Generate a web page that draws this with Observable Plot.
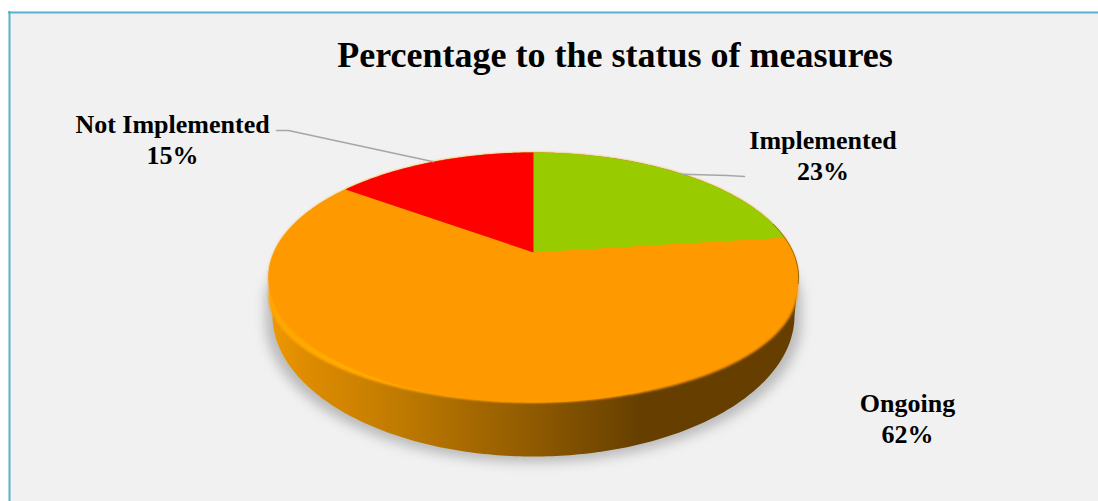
<!DOCTYPE html>
<html>
<head>
<meta charset="utf-8">
<script src="https://cdn.jsdelivr.net/npm/d3@7"></script>
<script src="https://cdn.jsdelivr.net/npm/@observablehq/plot@0.6"></script>
<style>
  html, body { margin: 0; padding: 0; background: #fff; }
  svg { display: block; }
  .soft-shadow { filter: blur(6px); }
  .soft-bevel { filter: blur(1px); }
  .soft-glow { filter: blur(1.5px); }
  .soft-edge { filter: blur(0.6px); }
</style>
</head>
<body>
<script>
// Share of measures by status, in clockwise order from twelve o'clock.
const categories = ["Implemented", "Ongoing", "Not Implemented"];
const percents = [23, 62, 15];
const sliceColors = ["#99cc00", "#ff9900", "#ff0000"];
const chartTitle = "Percentage to the status of measures";

const W = 1098, H = 501;

// Tilted disc: a unit circle under a one-point perspective.
const hub = {x: 533, y: 252}, spreadX = 259.7, spreadY = 120, tilt = 0.2;
function project(turn) {
  const a = turn * 2 * Math.PI, u = Math.sin(a), v = Math.cos(a), w = 1 + tilt * v;
  return {x: hub.x + spreadX * u / w, y: hub.y - spreadY * v / w};
}
function arc(from, to) {
  const n = Math.max(2, Math.ceil(Math.abs(to - from) * 360));
  return d3.range(n + 1).map((i) => project(from + (to - from) * i / n));
}

// Half ellipses used for the thickness of the disc; t runs from the left end to the right end.
function lowerHalf(cx, rx, cyAt, ryAt, n = 180) {
  return d3.range(n + 1).map((i) => {
    const t = i / n, a = Math.PI * t;
    return {x: cx - rx * Math.cos(a), y: cyAt(t) + ryAt(t) * Math.sin(a)};
  });
}
function upperHalf(cx, cy, rx, ry, n = 180) {
  return d3.range(n + 1).map((i) => {
    const a = Math.PI * i / n;
    return {x: cx + rx * Math.cos(a), y: cy - ry * Math.sin(a)};
  });
}

// Cumulative slice boundaries, as fractions of the full circle.
const total = d3.sum(percents);
const bounds = d3.cumsum([0, ...percents]).map((d) => d / total);
const slices = categories.map((name, i) => {
  const from = bounds[i], to = bounds[i + 1];
  return {name, percent: percents[i], color: sliceColors[i], mid: project((from + to) / 2),
          outline: [{x: hub.x, y: hub.y}, ...arc(from, to)]};
});

// Outlines of the body below the top face.
const faceCx = 533, faceCy = 277, faceRx = 265, faceRy = 125;
const baseEdge = lowerHalf(533, 261, () => 315, () => 141);
const bodyOutline = [...baseEdge, ...upperHalf(faceCx, faceCy, faceRx, faceRy)];
const shadowOutline = [...lowerHalf(533, 268, () => 321, () => 141), ...upperHalf(533, 300, 268, 100)];
// The lip sits lower on the left than on the right.
const lipCy = (t) => 297 - 10 * t, lipRy = (t) => 105 + 10 * t;
const lipEdge = lowerHalf(533, 264.5, lipCy, lipRy);
const lipOutline = [...lipEdge, ...upperHalf(faceCx, faceCy, faceRx, faceRy)];
const glowEdge = lowerHalf(533, 262, (t) => lipCy(t) - 3, lipRy);
const darkRim = arc(bounds[1] - 0.02, bounds[1] + 0.06);

// Label placement, with an optional elbow for the leader.
const labelLayout = {
  "Implemented": {x: 822.5, y: 154, leader: [{x: 744, y: 176}, {x: 727, y: 175}]},
  "Ongoing": {x: 907, y: 417, leader: []},
  "Not Implemented": {x: 172, y: 138, leader: [{x: 276, y: 130}, {x: 288, y: 130}]}
};

function gradient(id, stops) {
  const g = d3.create("svg:linearGradient").attr("id", id);
  for (const [offset, color, opacity] of stops) {
    g.append("stop").attr("offset", offset).attr("stop-color", color).attr("stop-opacity", opacity ?? 1);
  }
  return g.node();
}
const defs = () => {
  const d = d3.create("svg:defs");
  d.append(() => gradient("bodyShade", [
    [0, "#f09a00"], [0.06, "#e08d00"], [0.25, "#bf7a00"], [0.5, "#8f5a00"], [0.7, "#663f00"], [1, "#663f00"]
  ]));
  d.append(() => gradient("glowShade", [
    [0, "#ffae00", 0.7], [0.1, "#ffae00", 1], [0.5, "#ffae00", 1], [0.68, "#ffae00", 0], [1, "#ffae00", 0]
  ]));
  return d.node();
};

const closed = {curve: "linear-closed", stroke: "none"};

const plot = Plot.plot({
  width: W,
  height: H,
  margin: 0,
  x: {domain: [0, W], range: [0, W], axis: null},
  y: {domain: [0, H], range: [0, H], axis: null},
  marks: [
    defs,
    // Panel: light fill with a blue edge on the top and left only.
    Plot.frame({fill: "#f1f1f1", stroke: "none", insetLeft: 8, insetTop: 11}),
    Plot.ruleX([9], {y1: 11, y2: H, stroke: "#57b4d0", strokeWidth: 2}),
    Plot.ruleY([12], {x1: 8, x2: W, stroke: "#57b4d0", strokeWidth: 2}),

    // Drop shadow, body and lip of the disc.
    Plot.line(shadowOutline, {x: "x", y: "y", ...closed, fill: "#a8a8a8", fillOpacity: 0.75, className: "soft-shadow"}),
    Plot.line(bodyOutline, {x: "x", y: "y", ...closed, fill: "url(#bodyShade)"}),
    Plot.line(lipOutline, {x: "x", y: "y", ...closed, fill: "#ff9900", className: "soft-bevel"}),
    Plot.line(glowEdge, {x: "x", y: "y", stroke: "url(#glowShade)", strokeWidth: 5, className: "soft-glow"}),

    // Top face.
    slices.map((s) => Plot.line(s.outline, {x: "x", y: "y", ...closed, fill: s.color})),
    Plot.line(darkRim, {x: "x", y: "y", stroke: "#7a5200", strokeOpacity: 0.7, strokeWidth: 1, className: "soft-edge"}),

    // Leaders from the middle of each slice's outer edge.
    slices.filter((s) => labelLayout[s.name].leader.length).map((s) =>
      Plot.line([...labelLayout[s.name].leader, s.mid], {x: "x", y: "y", stroke: "#a6a6a6", strokeWidth: 1.5})
    ),

    // Slice labels and title.
    Plot.text(slices, {
      x: (s) => labelLayout[s.name].x,
      y: (s) => labelLayout[s.name].y,
      text: (s) => `${s.name}\n${s.percent}%`,
      fontFamily: "Liberation Serif",
      fontWeight: "bold",
      fontSize: 26,
      lineHeight: 1.2,
      fill: "#000",
      textAnchor: "middle"
    }),
    Plot.text([chartTitle], {
      x: () => 614.5,
      y: () => 55,
      text: (d) => d,
      fontFamily: "Liberation Serif",
      fontWeight: "bold",
      fontSize: 36,
      fill: "#000",
      textAnchor: "middle"
    })
  ]
});
document.body.append(plot);
</script>
</body>
</html>
